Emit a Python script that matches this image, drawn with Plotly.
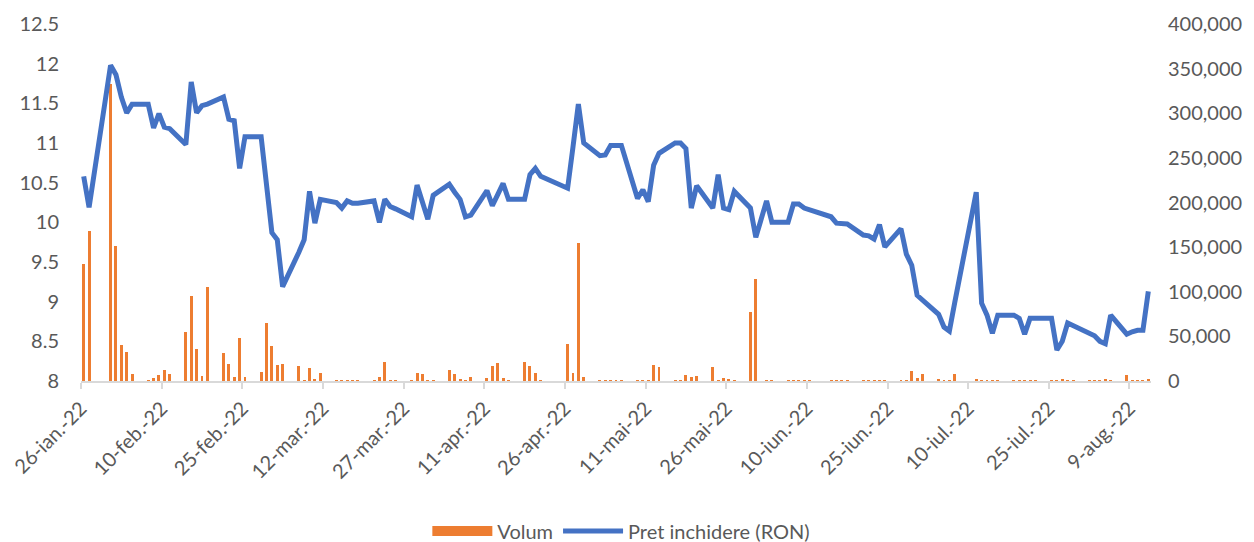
import pandas as pd
import plotly.graph_objects as go

dates = [
    "2022-01-26", "2022-01-27", "2022-01-31", "2022-02-01", "2022-02-02", "2022-02-03", "2022-02-04",
    "2022-02-07", "2022-02-08", "2022-02-09", "2022-02-10", "2022-02-11",
    "2022-02-14", "2022-02-15", "2022-02-16", "2022-02-17", "2022-02-18",
    "2022-02-21", "2022-02-22", "2022-02-23", "2022-02-24", "2022-02-25",
    "2022-02-28", "2022-03-01", "2022-03-02", "2022-03-03", "2022-03-04",
    "2022-03-07", "2022-03-08", "2022-03-09", "2022-03-10", "2022-03-11",
    "2022-03-14", "2022-03-15", "2022-03-16", "2022-03-17", "2022-03-18",
    "2022-03-21", "2022-03-22", "2022-03-23", "2022-03-24", "2022-03-25",
    "2022-03-28", "2022-03-29", "2022-03-30", "2022-03-31", "2022-04-01",
    "2022-04-04", "2022-04-05", "2022-04-06", "2022-04-07", "2022-04-08",
    "2022-04-11", "2022-04-12", "2022-04-13", "2022-04-14", "2022-04-15",
    "2022-04-18", "2022-04-19", "2022-04-20", "2022-04-21",
    "2022-04-26", "2022-04-27", "2022-04-28", "2022-04-29",
    "2022-05-02", "2022-05-03", "2022-05-04", "2022-05-05", "2022-05-06",
    "2022-05-09", "2022-05-10", "2022-05-11", "2022-05-12", "2022-05-13",
    "2022-05-16", "2022-05-17", "2022-05-18", "2022-05-19", "2022-05-20",
    "2022-05-23", "2022-05-24", "2022-05-25", "2022-05-26", "2022-05-27",
    "2022-05-30", "2022-05-31", "2022-06-02", "2022-06-03",
    "2022-06-06", "2022-06-07", "2022-06-08", "2022-06-09", "2022-06-10",
    "2022-06-14", "2022-06-15", "2022-06-16", "2022-06-17",
    "2022-06-20", "2022-06-21", "2022-06-22", "2022-06-23", "2022-06-24",
    "2022-06-27", "2022-06-28", "2022-06-29", "2022-06-30", "2022-07-01",
    "2022-07-04", "2022-07-05", "2022-07-06", "2022-07-07",
    "2022-07-11", "2022-07-12", "2022-07-13", "2022-07-14", "2022-07-15",
    "2022-07-18", "2022-07-19", "2022-07-20", "2022-07-21", "2022-07-22",
    "2022-07-25", "2022-07-26", "2022-07-27", "2022-07-28", "2022-07-29",
    "2022-08-01", "2022-08-02", "2022-08-03", "2022-08-04", "2022-08-05",
    "2022-08-08", "2022-08-09", "2022-08-10", "2022-08-11", "2022-08-12",
]

pret = [
    10.58, 10.19, 11.98, 11.86, 11.58, 11.38, 11.49,
    11.49, 11.19, 11.37, 11.20, 11.18,
    10.98, 11.77, 11.38, 11.47, 11.49,
    11.58, 11.30, 11.28, 10.68, 11.08,
    11.08, 10.40, 9.87, 9.78, 9.19,
    9.62, 9.78, 10.39, 9.99, 10.29,
    10.25, 10.18, 10.27, 10.24, 10.24,
    10.27, 10.00, 10.29, 10.20, 10.17,
    10.07, 10.47, 10.25, 10.04, 10.34,
    10.48, 10.38, 10.29, 10.07, 10.09,
    10.40, 10.21, 10.35, 10.49, 10.29,
    10.29, 10.60, 10.68, 10.58,
    10.43, 10.95, 11.49, 11.00,
    10.84, 10.85, 10.97, 10.97, 10.97,
    10.30, 10.41, 10.26, 10.72, 10.87,
    11.00, 11.00, 10.93, 10.18, 10.46,
    10.18, 10.60, 10.18, 10.16, 10.39,
    10.18, 9.81, 10.27, 10.00,
    10.00, 10.23, 10.23, 10.18, 10.16,
    10.07, 9.99, 9.99, 9.98,
    9.84, 9.83, 9.79, 9.97, 9.69,
    9.92, 9.60, 9.46, 9.08, 9.02,
    8.84, 8.68, 8.63, 8.99,
    10.38, 8.98, 8.83, 8.60, 8.83,
    8.83, 8.79, 8.59, 8.79, 8.79,
    8.79, 8.39, 8.50, 8.73, 8.70,
    8.61, 8.57, 8.50, 8.47, 8.83,
    8.59, 8.62, 8.64, 8.64, 9.13,
]

volum = [
    130700, 168400, 333000, 151300, 40300, 32100, 7500,
    1000, 3700, 6700, 12700, 7500,
    54900, 95200, 35900, 5600, 105700,
    31700, 19400, 4900, 47800, 4500,
    10500, 64600, 39200, 17900, 18700,
    16800, 500, 14900, 2200, 8600,
    200, 100, 200, 100, 100,
    1000, 4900, 21700, 300, 100,
    1000, 8600, 7800, 100, 100,
    12300, 7500, 1900, 100, 4900,
    3700, 16800, 19800, 3000, 1100,
    21700, 16800, 8600, 1100,
    41100, 8600, 155000, 4900,
    1100, 100, 100, 100, 500,
    100, 100, 100, 17900, 15300,
    1100, 100, 6700, 4500, 5600,
    15700, 100, 3000, 1900, 100,
    77700, 113900, 100, 100,
    100, 100, 100, 1000, 100,
    200, 100, 100, 100,
    100, 100, 300, 100, 100,
    1100, 100, 11200, 3000, 7600,
    1900, 100, 100, 7600,
    1500, 100, 100, 100, 100,
    100, 100, 100, 100, 100,
    100, 100, 2200, 1100, 100,
    100, 100, 100, 2200, 100,
    6700, 100, 100, 100, 2200,
]

tick_dates = ["2022-01-26", "2022-02-10", "2022-02-25", "2022-03-12", "2022-03-27",
              "2022-04-11", "2022-04-26", "2022-05-11", "2022-05-26", "2022-06-10",
              "2022-06-25", "2022-07-10", "2022-07-25", "2022-08-09"]
tick_labels = ["26-ian.-22", "10-feb.-22", "25-feb.-22", "12-mar.-22", "27-mar.-22",
               "11-apr.-22", "26-apr.-22", "11-mai-22", "26-mai-22", "10-iun.-22",
               "25-iun.-22", "10-iul.-22", "25-iul.-22", "9-aug.-22"]

x = pd.to_datetime(dates)
half_day = pd.Timedelta(hours=12)
tickvals = pd.to_datetime(tick_dates) - half_day
x_start = pd.Timestamp("2022-01-26") - half_day
x_end = pd.Timestamp("2022-08-13") - half_day

FONT = "Lato, 'Open Sans', sans-serif"
GREY = "#595959"
ORANGE = "#ED7D31"
BLUE = "#4472C4"

fig = go.Figure()
fig.add_trace(go.Bar(
    x=x, y=volum, name="Volum", yaxis="y", showlegend=False,
    marker=dict(color=ORANGE, line=dict(width=0)),
    width=0.55 * 86400000,
))
# legend entry for the bars, drawn as a wide orange block like the original
fig.add_trace(go.Scatter(
    x=[None], y=[None], name="Volum", yaxis="y", mode="lines",
    line=dict(color=ORANGE, width=16),
))
fig.add_trace(go.Scatter(
    x=x, y=pret, name="Pret inchidere (RON)", yaxis="y2",
    mode="lines", line=dict(color=BLUE, width=5),
))

fig.update_layout(
    width=1254, height=542,
    margin=dict(l=73, r=111, t=16, b=169, autoexpand=False),
    paper_bgcolor="white", plot_bgcolor="white",
    font=dict(family=FONT, size=20, color=GREY),
    showlegend=True,
    legend=dict(orientation="h", x=0.505, xanchor="center", y=-0.42, yanchor="middle",
                font=dict(size=20, color=GREY), itemwidth=60, traceorder="normal"),
    bargap=0,
    xaxis=dict(
        type="date", range=[x_start, x_end], automargin=False,
        tickmode="array", tickvals=tickvals, ticktext=tick_labels,
        tickangle=-45, showgrid=False, zeroline=False,
        showline=True, linecolor="#D9D9D9", linewidth=2,
        ticks="outside", ticklen=6, tickcolor="#D9D9D9", tickwidth=2,
        tickfont=dict(size=20, color=GREY),
    ),
    yaxis=dict(
        side="right", range=[0, 400000], dtick=50000, tickformat=",d",
        automargin=False,
        showgrid=False, zeroline=False, showline=False, ticks="",
        ticklabelstandoff=16, tickfont=dict(size=20, color=GREY),
    ),
    yaxis2=dict(
        side="left", overlaying="y", range=[8, 12.5], dtick=0.5,
        automargin=False,
        showgrid=False, zeroline=False, showline=False, ticks="",
        ticklabelstandoff=21, tickfont=dict(size=20, color=GREY),
    ),
)

fig.write_html("out.html")
